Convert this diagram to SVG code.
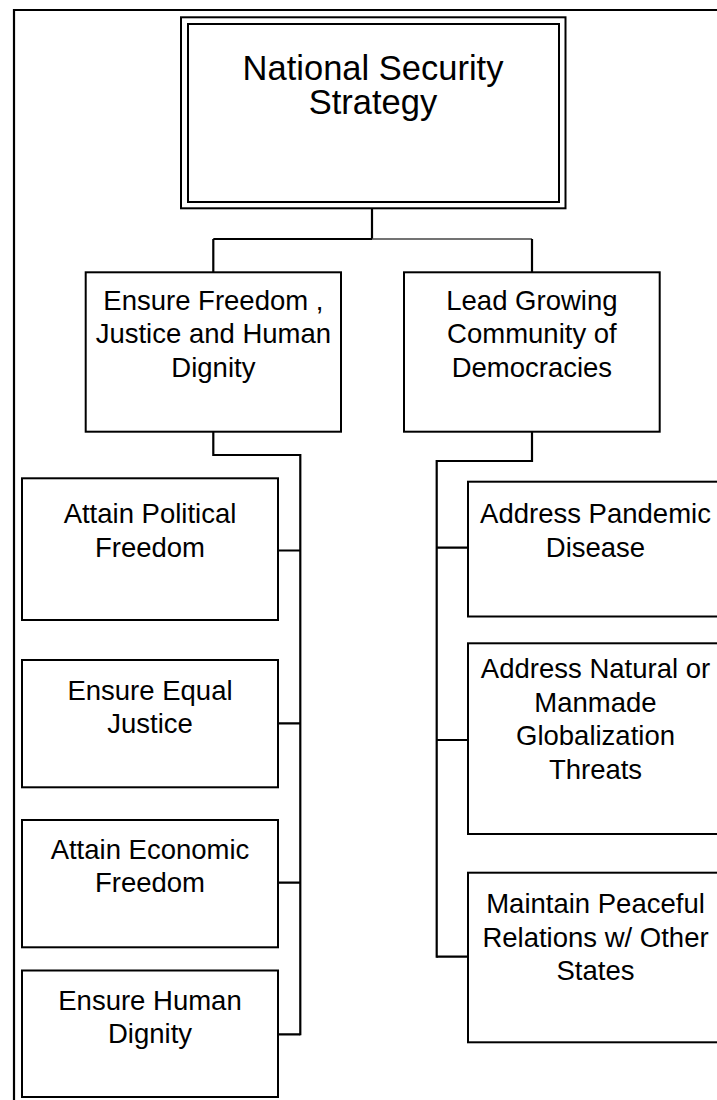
<svg xmlns="http://www.w3.org/2000/svg" width="717" height="1100" viewBox="0 0 717 1100">
<style>
.box{fill:#fff;stroke:#000;stroke-width:2}
.ln{fill:none;stroke:#000;stroke-width:2.2}
text{font-family:"Liberation Sans",Arial,sans-serif;fill:#000;text-anchor:middle}
.t1{font-size:34.5px}
.t2{font-size:27.5px}
</style>
<rect width="717" height="1100" fill="#fff"/>
<path class="ln" d="M14,1100 V10 H717"/>
<g id="connectors">
<path class="ln" d="M372,208 V239 M213.3,239 H372 M213.3,239 V272"/>
<path d="M372,239 H532" fill="none" stroke="#444" stroke-width="1.6"/>
<path class="ln" d="M532,239 V272"/>
<path class="ln" d="M213.3,432 V455 H300.3 V1035.3"/>
<path class="ln" d="M278,550.5 H300.3 M278,723.3 H300.3 M278,882.7 H300.3 M278,1034.3 H300.3"/>
<path class="ln" d="M532,432 V461 H436.7 V957.7"/>
<path class="ln" d="M436.7,547.7 H468 M436.7,740 H468 M436.7,956.7 H468"/>
</g>
<g id="n-nss">
<rect class="box" x="181" y="17.3" width="384.5" height="191"/>
<rect class="box" x="188" y="24" width="371" height="178"/>
<text class="t1"><tspan x="373" y="79.5">National Security</tspan><tspan x="373" y="113.5">Strategy</tspan></text>
</g>
<g id="n-freedom">
<rect class="box" x="85.7" y="272.3" width="255.3" height="159.4"/>
<text class="t2"><tspan x="213.4" y="310">Ensure Freedom ,</tspan><tspan x="213.4" y="343.3">Justice and Human</tspan><tspan x="213.4" y="376.7">Dignity</tspan></text>
</g>
<g id="n-lead">
<rect class="box" x="404" y="272.3" width="255.7" height="159.4"/>
<text class="t2"><tspan x="531.9" y="310">Lead Growing</tspan><tspan x="531.9" y="343.3">Community of</tspan><tspan x="531.9" y="376.7">Democracies</tspan></text>
</g>
<g id="n-political">
<rect class="box" x="22" y="478.3" width="256" height="141.7"/>
<text class="t2"><tspan x="150" y="523.3">Attain Political</tspan><tspan x="150" y="556.7">Freedom</tspan></text>
</g>
<g id="n-justice">
<rect class="box" x="22" y="660" width="256" height="127.3"/>
<text class="t2"><tspan x="150" y="700">Ensure Equal</tspan><tspan x="150" y="733.3">Justice</tspan></text>
</g>
<g id="n-economic">
<rect class="box" x="22" y="820" width="256" height="127.3"/>
<text class="t2"><tspan x="150" y="858.8">Attain Economic</tspan><tspan x="150" y="892.2">Freedom</tspan></text>
</g>
<g id="n-dignity">
<rect class="box" x="22" y="970.5" width="256" height="126.5"/>
<text class="t2"><tspan x="150" y="1010">Ensure Human</tspan><tspan x="150" y="1042.7">Dignity</tspan></text>
</g>
<g id="n-pandemic">
<rect class="box" x="468" y="481.7" width="256" height="134.8"/>
<text class="t2"><tspan x="595.5" y="523.3">Address Pandemic</tspan><tspan x="595.5" y="556.7">Disease</tspan></text>
</g>
<g id="n-natural">
<rect class="box" x="468" y="643.3" width="256" height="190.7"/>
<text class="t2"><tspan x="595.5" y="678">Address Natural or</tspan><tspan x="595.5" y="711.7">Manmade</tspan><tspan x="595.5" y="745">Globalization</tspan><tspan x="595.5" y="779">Threats</tspan></text>
</g>
<g id="n-peace">
<rect class="box" x="468" y="872.7" width="256" height="169.6"/>
<text class="t2"><tspan x="595.5" y="913.3">Maintain Peaceful</tspan><tspan x="595.5" y="946.7">Relations w/ Other</tspan><tspan x="595.5" y="980">States</tspan></text>
</g>
</svg>
